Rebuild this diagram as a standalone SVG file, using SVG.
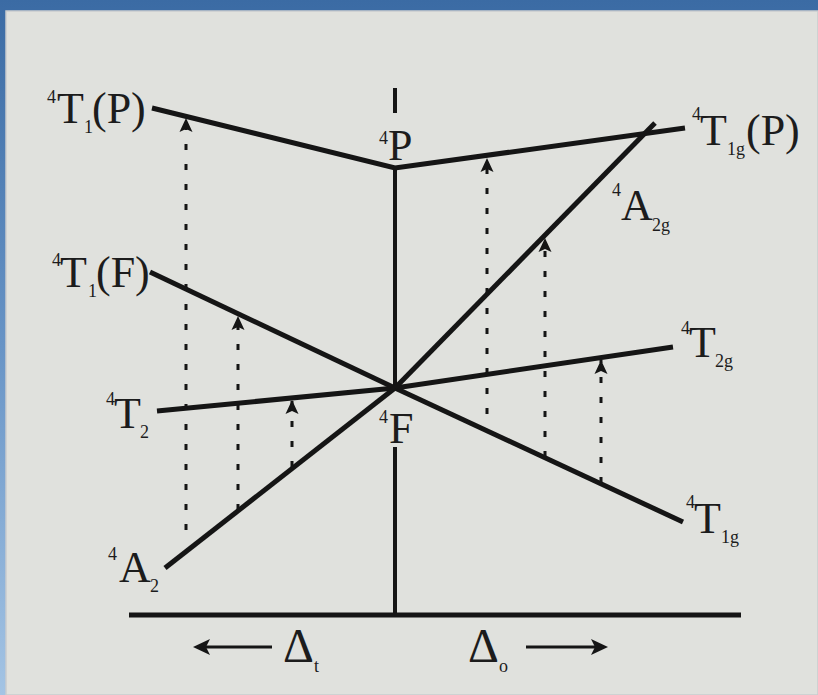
<svg xmlns="http://www.w3.org/2000/svg" width="818" height="695" viewBox="0 0 818 695">
<defs>
<linearGradient id="bg" x1="0" y1="0" x2="0" y2="1">
<stop offset="0" stop-color="#3b6ba4"/>
<stop offset="0.5" stop-color="#6894c6"/>
<stop offset="1" stop-color="#a4c4e4"/>
</linearGradient>
<marker id="ah" viewBox="-16 -8 16 16" refX="0" refY="0" markerWidth="16" markerHeight="16" markerUnits="userSpaceOnUse" orient="auto">
<path d="M0,0 L-14,-6.5 L-11,0 L-14,6.5 Z" fill="#151515"/>
</marker>
<style>
.lvl{stroke:#151515;stroke-width:5;fill:none;stroke-linecap:butt;stroke-linejoin:miter}
.ax{stroke:#151515;stroke-width:4;fill:none}
.dot{stroke:#151515;stroke-width:3;fill:none;stroke-dasharray:6 14;marker-end:url(#ah)}
.m{font-size:44px;fill:#1c1c1c}
.s{font-size:18px;fill:#1c1c1c}
.d{font-size:48px;fill:#1c1c1c}
</style>
</defs>
<rect x="0" y="0" width="818" height="695" fill="url(#bg)"/>
<rect x="6" y="11" width="812" height="684" fill="#e0e1dd" stroke="#c9ccce" stroke-width="1.5"/>

<g id="axis">
<line class="ax" x1="395" y1="88" x2="395" y2="113"/>
<line class="ax" x1="395" y1="168" x2="395" y2="388"/>
<line class="ax" x1="395" y1="447" x2="395" y2="615"/>
<line class="lvl" x1="129" y1="615" x2="741" y2="615"/>
</g>

<g font-family="Liberation Serif, Tinos, Times New Roman, DejaVu Serif, serif">
<g id="P-term">
<polyline class="lvl" points="152,108 395,168 685,128"/>
<text class="s" x="379" y="144">4</text><text class="m" x="388" y="160">P</text>
</g>
<g id="T1P">
<text class="s" x="47" y="103">4</text><text class="m" x="57" y="123">T</text><text class="s" x="84" y="133">1</text><text class="m" x="92" y="123">(P)</text>
</g>
<g id="T1gP">
<text class="s" x="692" y="120">4</text><text class="m" x="700" y="145">T</text><text class="s" x="727" y="155">1g</text><text class="m" x="746" y="145">(P)</text>
</g>

<g id="F-term">
<text class="s" x="379" y="423">4</text><text class="m" x="389" y="443">F</text>
</g>
<g id="T1F">
<line class="lvl" x1="150" y1="272" x2="395" y2="388"/>
<text class="s" x="52" y="266">4</text><text class="m" x="60" y="287">T</text><text class="s" x="88" y="297">1</text><text class="m" x="96" y="287">(F)</text>
</g>
<g id="T1g">
<line class="lvl" x1="395" y1="388" x2="683" y2="522"/>
<text class="s" x="686" y="508">4</text><text class="m" x="694" y="533">T</text><text class="s" x="721" y="543">1g</text>
</g>
<g id="T2">
<line class="lvl" x1="157" y1="411" x2="395" y2="388"/>
<text class="s" x="106" y="405">4</text><text class="m" x="114" y="428">T</text><text class="s" x="140" y="438">2</text>
</g>
<g id="T2g">
<line class="lvl" x1="395" y1="388" x2="673" y2="347"/>
<text class="s" x="681" y="334">4</text><text class="m" x="689" y="357">T</text><text class="s" x="715" y="367">2g</text>
</g>
<g id="A2">
<line class="lvl" x1="165" y1="568" x2="395" y2="388"/>
<text class="s" x="108" y="560">4</text><text class="m" x="119" y="582">A</text><text class="s" x="150" y="592">2</text>
</g>
<g id="A2g">
<line class="lvl" x1="395" y1="388" x2="655" y2="123"/>
<text class="s" x="612" y="196">4</text><text class="m" x="621" y="220">A</text><text class="s" x="652" y="231">2g</text>
</g>

<g id="delta-t">
<line x1="272" y1="647" x2="203" y2="647" stroke="#151515" stroke-width="3"/>
<path d="M193,647 L210,639 L206,647 L210,655 Z" fill="#151515"/>
<text class="d" x="283" y="662">Δ</text><text class="s" x="314" y="672">t</text>
</g>
<g id="delta-o">
<line x1="526" y1="647" x2="598" y2="647" stroke="#151515" stroke-width="3"/>
<path d="M608,647 L591,639 L595,647 L591,655 Z" fill="#151515"/>
<text class="d" x="468" y="662">Δ</text><text class="s" x="499" y="672">o</text>
</g>
</g>

<g id="connectors">
<line class="dot" x1="186" y1="530" x2="186" y2="118"/>
<line class="dot" x1="238" y1="510" x2="238" y2="316"/>
<line class="dot" x1="292" y1="467" x2="292" y2="400"/>
<line class="dot" x1="487" y1="414" x2="487" y2="158"/>
<line class="dot" x1="545" y1="457" x2="545" y2="238"/>
<line class="dot" x1="601" y1="483" x2="601" y2="360"/>
</g>
</svg>
